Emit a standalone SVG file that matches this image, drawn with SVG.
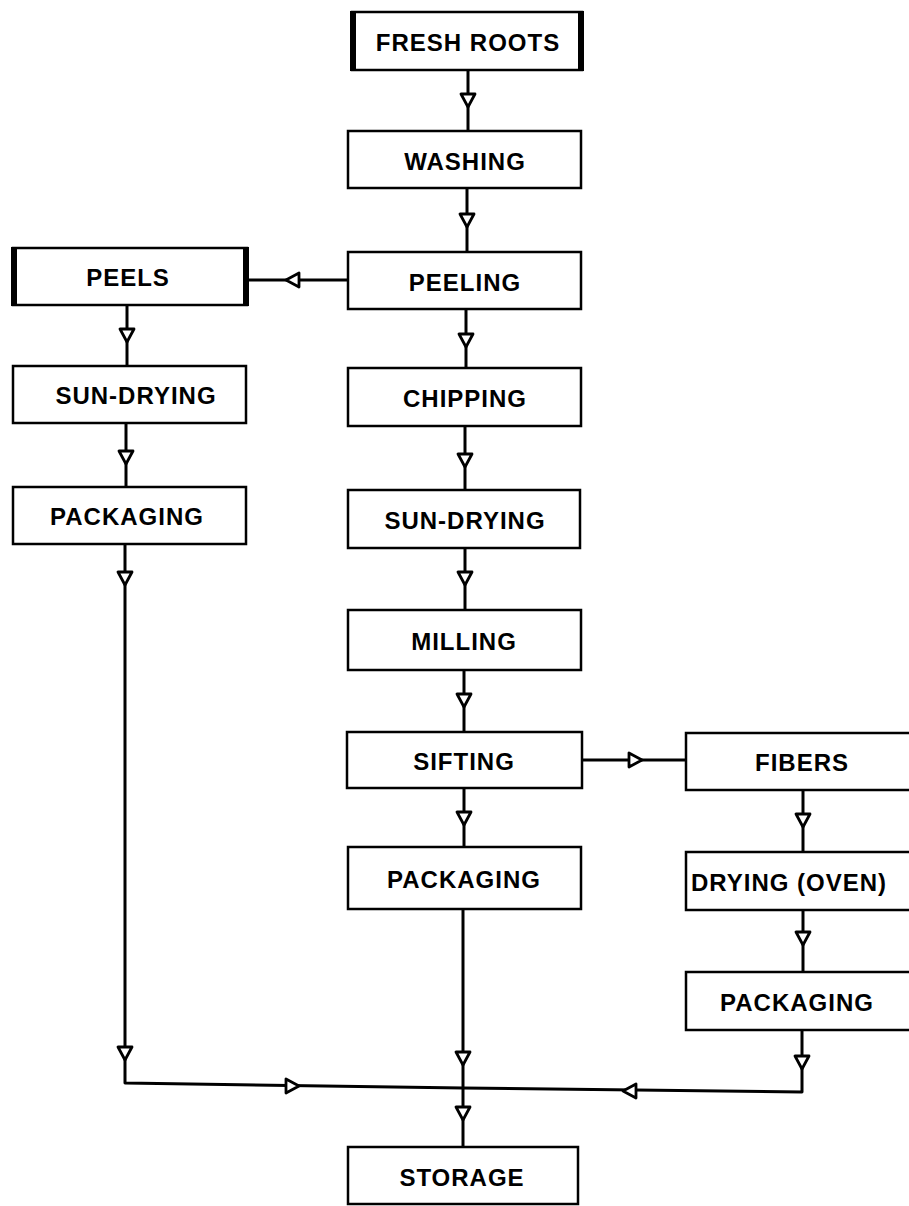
<svg xmlns="http://www.w3.org/2000/svg" xmlns:xlink="http://www.w3.org/1999/xlink" width="909" height="1206" viewBox="0 0 909 1206">
<style>
.box{fill:#fff;stroke:#000;stroke-width:2.5}
.bar{fill:#000}
.lbl{font-family:"Liberation Sans",Arial,sans-serif;font-weight:bold;font-size:24px;letter-spacing:1px;fill:#000;text-anchor:middle}
.ln{fill:none;stroke:#000;stroke-width:3;stroke-linejoin:round}
.ah{fill:#fff;stroke:#000;stroke-width:2.8;stroke-linejoin:round}
</style>
<defs>
<polygon id="ad" class="ah" points="-7,-6 7,-6 0,7"/>
<polygon id="al" class="ah" points="6,-7 6,7 -7,0"/>
<polygon id="ar" class="ah" points="-6,-7 -6,7 7,0"/>
</defs>
<rect width="909" height="1206" fill="#fff"/>
<g id="connectors">
<path class="ln" d="M468 70 V131"/>
<path class="ln" d="M467 188 V252"/>
<path class="ln" d="M466 309 V368"/>
<path class="ln" d="M465 426 V490"/>
<path class="ln" d="M465 548 V610"/>
<path class="ln" d="M464 670 V732"/>
<path class="ln" d="M464 788 V847"/>
<path class="ln" d="M463 909 V1147"/>
<path class="ln" d="M348 280 H247"/>
<path class="ln" d="M582 760 H686"/>
<path class="ln" d="M127 305 V366"/>
<path class="ln" d="M126 423 V487"/>
<path class="ln" d="M125 544 V1083 L463 1088 L802 1092 V1030"/>
<path class="ln" d="M803 790 V852"/>
<path class="ln" d="M803 910 V972"/>
<use xlink:href="#ad" x="468" y="100"/>
<use xlink:href="#ad" x="467" y="220"/>
<use xlink:href="#ad" x="466" y="340"/>
<use xlink:href="#ad" x="465" y="460"/>
<use xlink:href="#ad" x="465" y="578"/>
<use xlink:href="#ad" x="464" y="700"/>
<use xlink:href="#ad" x="464" y="818"/>
<use xlink:href="#ad" x="463" y="1058"/>
<use xlink:href="#ad" x="463" y="1113"/>
<use xlink:href="#al" x="293" y="280"/>
<use xlink:href="#ar" x="635" y="760"/>
<use xlink:href="#ad" x="127" y="335"/>
<use xlink:href="#ad" x="126" y="457"/>
<use xlink:href="#ad" x="125" y="578"/>
<use xlink:href="#ad" x="125" y="1053"/>
<use xlink:href="#ar" x="292" y="1086"/>
<use xlink:href="#al" x="630" y="1091"/>
<use xlink:href="#ad" x="803" y="820"/>
<use xlink:href="#ad" x="803" y="938"/>
<use xlink:href="#ad" x="802" y="1062"/>
</g>
<g id="fresh-roots">
<rect class="box" x="352" y="12" width="230" height="58"/>
<rect class="bar" x="350" y="11" width="6" height="60"/>
<rect class="bar" x="578" y="11" width="6" height="60"/>
<text class="lbl" x="468" y="51">FRESH ROOTS</text>
</g>
<g id="washing">
<rect class="box" x="348" y="131" width="233" height="57"/>
<text class="lbl" x="465" y="170">WASHING</text>
</g>
<g id="peeling">
<rect class="box" x="348" y="252" width="233" height="57"/>
<text class="lbl" x="465" y="291">PEELING</text>
</g>
<g id="peels">
<rect class="box" x="13" y="248" width="234" height="57"/>
<rect class="bar" x="11" y="247" width="6" height="59"/>
<rect class="bar" x="243" y="247" width="6" height="59"/>
<text class="lbl" x="128" y="286">PEELS</text>
</g>
<g id="chipping">
<rect class="box" x="348" y="368" width="233" height="58"/>
<text class="lbl" x="465" y="407">CHIPPING</text>
</g>
<g id="sun-drying-left">
<rect class="box" x="13" y="366" width="233" height="57"/>
<text class="lbl" x="136" y="404">SUN-DRYING</text>
</g>
<g id="packaging-left">
<rect class="box" x="13" y="487" width="233" height="57"/>
<text class="lbl" x="127" y="525">PACKAGING</text>
</g>
<g id="sun-drying-center">
<rect class="box" x="348" y="490" width="232" height="58"/>
<text class="lbl" x="465" y="529">SUN-DRYING</text>
</g>
<g id="milling">
<rect class="box" x="348" y="610" width="233" height="60"/>
<text class="lbl" x="464" y="650">MILLING</text>
</g>
<g id="sifting">
<rect class="box" x="347" y="732" width="235" height="56"/>
<text class="lbl" x="464" y="770">SIFTING</text>
</g>
<g id="fibers">
<rect class="box" x="686" y="733" width="228" height="57"/>
<text class="lbl" x="802" y="771">FIBERS</text>
</g>
<g id="packaging-center">
<rect class="box" x="348" y="847" width="233" height="62"/>
<text class="lbl" x="464" y="888">PACKAGING</text>
</g>
<g id="drying-oven">
<rect class="box" x="686" y="852" width="228" height="58"/>
<text class="lbl" x="789" y="891">DRYING (OVEN)</text>
</g>
<g id="packaging-right">
<rect class="box" x="686" y="972" width="228" height="58"/>
<text class="lbl" x="797" y="1011">PACKAGING</text>
</g>
<g id="storage">
<rect class="box" x="348" y="1147" width="230" height="57"/>
<text class="lbl" x="462" y="1186">STORAGE</text>
</g>
</svg>
